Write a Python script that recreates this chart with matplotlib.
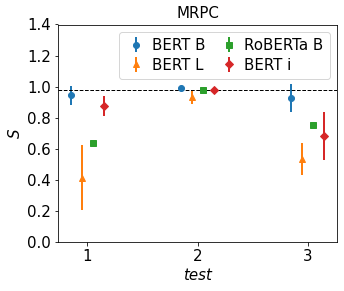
import numpy as np
import matplotlib
matplotlib.use("Agg")
import matplotlib.pyplot as plt

plt.rcParams["font.size"] = 15

tests = np.array([1, 2, 3])
bert_b = [0.945, 0.989, 0.925]
bert_b_err = [0.06, 0.008, 0.09]
bert_l = [0.415, 0.935, 0.535]
bert_l_err = [0.21, 0.045, 0.105]
roberta_b = [0.637, 0.976, 0.751]
roberta_b_err = [0.0, 0.0, 0.0]
bert_i = [0.873, 0.98, 0.68]
bert_i_err = [0.065, 0.008, 0.155]
baseline = 0.976

series = [
    ("BERT B", bert_b, bert_b_err, "o", "#1f77b4", -0.15),
    ("BERT L", bert_l, bert_l_err, "^", "#ff7f0e", -0.05),
    ("RoBERTa B", roberta_b, roberta_b_err, "s", "#2ca02c", 0.05),
    ("BERT i", bert_i, bert_i_err, "D", "#d62728", 0.15),
]

fig = plt.figure(figsize=(344 / 72, 291 / 72), dpi=72)
ax = fig.add_axes([58 / 344, 49 / 291, 279 / 344, 217.5 / 291])

for name, y, err, m, c, off in series:
    ax.errorbar(tests + off, y, yerr=err, fmt=m, color=c, ms=6, elinewidth=2,
                label=name)

ax.axhline(baseline, color="black", linestyle="--", linewidth=1)
ax.set_ylim(0, 1.4)
ax.set_xticks(tests)
ax.set_xlabel("test", fontstyle="italic")
ax.set_ylabel("$S$")
ax.set_title("MRPC", fontsize=15)
ax.legend(ncol=2, loc="upper right", fontsize=15, handlelength=1.5,
          handletextpad=0.3, columnspacing=0.8, borderpad=0.4,
          borderaxespad=0.5, labelspacing=0.3)

fig.savefig("out.png", dpi=72)
